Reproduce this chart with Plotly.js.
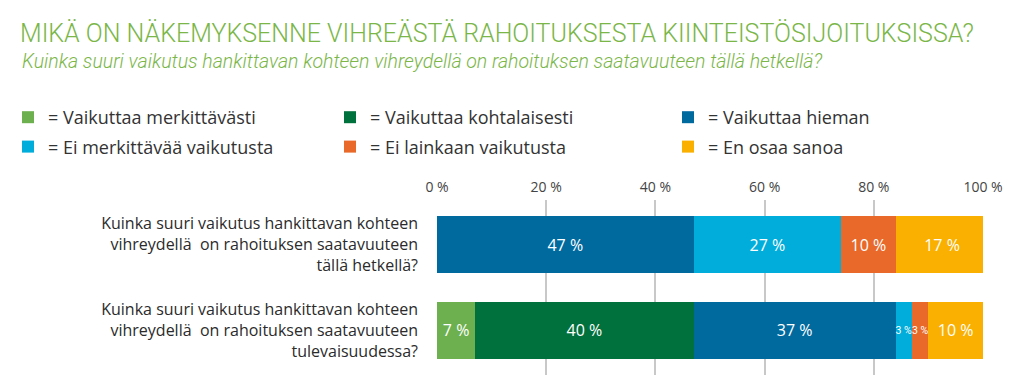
<!DOCTYPE html>
<html>
<head>
<meta charset="utf-8">
<script src="https://cdn.plot.ly/plotly-3.0.1.min.js"></script>
<style>html,body{margin:0;padding:0;background:#fff}#chart{width:1024px;height:392px}</style>
</head>
<body>
<div id="chart"></div>
<script>
// Data
const questions = [
  "Kuinka suuri vaikutus hankittavan kohteen<br>vihreydellä\u00a0 on rahoituksen saatavuuteen<br>tällä hetkellä?",
  "Kuinka suuri vaikutus hankittavan kohteen<br>vihreydellä\u00a0 on rahoituksen saatavuuteen<br>tulevaisuudessa?"
];
const seriesNames = [
  "Vaikuttaa merkittävästi",
  "Vaikuttaa kohtalaisesti",
  "Vaikuttaa hieman",
  "Ei merkittävää vaikutusta",
  "Ei lainkaan vaikutusta",
  "En osaa sanoa"
];
const vaikuttaaMerkittavasti = [null, 7];
const vaikuttaaKohtalaisesti = [null, 40];
const vaikuttaaHieman = [47, 37];
const eiMerkittavaa = [27, 3];
const eiLainkaan = [10, 3];
const enOsaaSanoa = [17, 10];
const tickValues = [0, 20, 40, 60, 80, 100];
const tickLabels = ["0 %", "20 %", "40 %", "60 %", "80 %", "100 %"];

const seriesValues = [vaikuttaaMerkittavasti, vaikuttaaKohtalaisesti, vaikuttaaHieman, eiMerkittavaa, eiLainkaan, enOsaaSanoa];
const colors = ["#6db04f", "#00703c", "#006a9f", "#00addb", "#e8692a", "#f9b000"];
const legendIds = ["legend", "legend2", "legend3"];

const isNarrow = v => v != null && v < 5;

const traces = seriesValues.map((vals, i) => ({
  type: "bar",
  orientation: "h",
  name: "= " + seriesNames[i],
  legend: legendIds[i % 3],
  legendgroup: "g" + i,
  y: questions,
  x: vals,
  marker: { color: colors[i], line: { width: 0 } },
  text: vals.map(v => v == null ? "" : v + " %"),
  textposition: "inside",
  insidetextanchor: "middle",
  textangle: 0,
  constraintext: "none",
  textfont: {
    family: vals.map(v => isNarrow(v) ? "Roboto, sans-serif" : "Open Sans, sans-serif"),
    size: vals.map(v => isNarrow(v) ? 10.5 : 16),
    color: "#ffffff"
  },
  hoverinfo: "name+x"
}));

function legendAt(px) {
  return {
    orientation: "v",
    xref: "container", yref: "container",
    x: px / 1024, xanchor: "left",
    y: 1 - 99 / 392, yanchor: "top",
    traceorder: "grouped",
    tracegroupgap: 3,
    font: { family: "Open Sans, sans-serif", size: 18, color: "#333333" },
    bgcolor: "rgba(0,0,0,0)",
    itemclick: false, itemdoubleclick: false
  };
}

const layout = {
  width: 1024,
  height: 392,
  paper_bgcolor: "#ffffff",
  plot_bgcolor: "#ffffff",
  barmode: "stack",
  bargap: 0.33,
  margin: { l: 437, r: 41, t: 200, b: 17, pad: 0, autoexpand: false },
  title: {
    text: "MIKÄ ON NÄKEMYKSENNE VIHREÄSTÄ RAHOITUKSESTA KIINTEISTÖSIJOITUKSISSA?",
    font: { family: "Roboto, sans-serif", size: 25, color: "#7ab648", weight: 300 },
    xref: "container", x: 20 / 1024, xanchor: "left",
    yref: "container", y: 1 - 33 / 392, yanchor: "middle"
  },
  annotations: [{
    text: "Kuinka suuri vaikutus hankittavan kohteen vihreydellä on rahoituksen saatavuuteen tällä hetkellä?",
    xref: "paper", yref: "paper",
    x: -417 / 546, xanchor: "left",
    y: 1 + (200 - 61) / 175, yanchor: "middle",
    showarrow: false,
    font: { family: "Roboto, sans-serif", size: 19.5, color: "#7ab648", style: "italic", weight: 300 }
  }],
  showlegend: true,
  legend: legendAt(8),
  legend2: legendAt(330),
  legend3: legendAt(668),
  xaxis: {
    side: "top",
    range: [0, 100],
    tickvals: tickValues,
    ticktext: tickLabels,
    showgrid: true,
    gridcolor: "#c8c8c8",
    gridwidth: 2,
    zeroline: false,
    showline: false,
    ticks: "",
    automargin: false,
    ticklabelstandoff: 4,
    tickfont: { family: "Open Sans, sans-serif", size: 14, color: "#444444" },
    fixedrange: true
  },
  yaxis: {
    type: "category",
    categoryorder: "array",
    categoryarray: questions,
    range: [1.52, -0.52],
    showgrid: false,
    zeroline: false,
    showline: false,
    ticks: "",
    automargin: false,
    ticklabelstandoff: 18,
    tickfont: { family: "Open Sans, sans-serif", size: 16, color: "#2b2b2b" },
    fixedrange: true
  }
};

Plotly.newPlot("chart", traces, layout, { displayModeBar: false, staticPlot: true });
</script>
</body>
</html>
